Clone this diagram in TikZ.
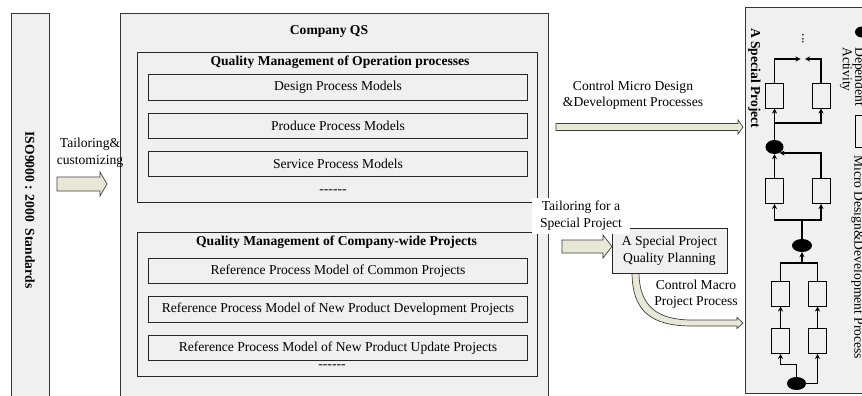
\documentclass[tikz,border=0pt]{standalone}
\usepackage{fontspec}
\setmainfont{Liberation Serif}[Ligatures=TeXOff]
\usetikzlibrary{arrows.meta,shapes.geometric}
\definecolor{panelgray}{RGB}{240,240,240}
\definecolor{arrowfill}{RGB}{232,232,214}
\definecolor{edgegray}{RGB}{55,55,55}
\begin{document}
\begin{tikzpicture}[x=1pt,y=-1pt,
  txt/.style={font=\fontsize{13.6}{16.5}\selectfont, inner sep=0pt, align=center},
  bold/.style={font=\fontsize{13.6}{16.5}\selectfont\bfseries, inner sep=0pt, align=center},
  panel/.style={draw=edgegray, line width=1.2pt, fill=panelgray, inner sep=0pt, anchor=north west},
  subbox/.style={draw=black!85, line width=1pt, fill=panelgray, inner sep=0pt},
  blockarrow/.style={draw=black!75, line width=0.7pt, fill=arrowfill},
  fbox/.style={draw=black, line width=1pt, minimum width=18pt, minimum height=25pt, inner sep=0pt},
  blob/.style={ellipse, fill=black, minimum width=18pt, minimum height=14pt, inner sep=0pt},
  wire/.style={draw=black, line width=1.2pt},
  flow/.style={wire, -{Stealth[length=5pt,width=5pt]}}]
\useasboundingbox (0,0) rectangle (862,396);
\fill[white] (0,0) rectangle (862,396);

% ---------- left panel ----------
\node[panel, minimum width=38pt, minimum height=384pt] (iso) at (11,13) {};
\node[bold, rotate=-90] (isotxt) at (30,210) {ISO9000 : 2000 \ Standards};

% ---------- Company QS ----------
\node[panel, minimum width=428pt, minimum height=384pt] (qs) at (120,13) {};
\node[bold] (qstitle) at (329,31) {Company QS};

\node[panel, draw=black!85, line width=1pt, minimum width=399.5pt, minimum height=150pt] (op) at (137,52) {};
\node[bold] (optitle) at (340,62) {Quality Management of Operation processes};
\node[subbox, minimum width=378.5pt, minimum height=25pt] (design) at (338,87.5) {};
\node[txt] at (design) {Design Process Models};
\node[subbox, minimum width=378.5pt, minimum height=25pt] (produce) at (338,125.5) {};
\node[txt] at (produce) {Produce Process Models};
\node[subbox, minimum width=378.5pt, minimum height=25pt] (service) at (338,164) {};
\node[txt] at (service) {Service Process Models};
\node[txt] (opdots) at (333,192) {------};

\node[panel, draw=black!85, line width=1pt, minimum width=399.5pt, minimum height=144pt] (cw) at (137,232) {};
\node[bold] (cwtitle) at (336.5,242.5) {Quality Management of Company-wide Projects};
\node[subbox, minimum width=379.5pt, minimum height=25.5pt] (ref1) at (338,271) {};
\node[txt] at (ref1) {Reference Process Model of Common Projects};
\node[subbox, minimum width=379.5pt, minimum height=25.5pt] (ref2) at (338,309.5) {};
\node[txt] at (ref2) {Reference Process Model of New Product Development Projects};
\node[subbox, minimum width=379.5pt, minimum height=25.5pt] (ref3) at (338,348) {};
\node[txt] at (ref3) {Reference Process Model of New Product Update Projects};
\node[txt] (cwdots) at (332,367) {------};

% ---------- tailoring & customizing ----------
\node[txt] (tail1) at (90,152.5) {Tailoring\&\\customizing};
\path[blockarrow] (57,177) -- (100,177) -- (100,172) -- (107,184) -- (100,196) -- (100,191) -- (57,191) -- cycle;

% ---------- control micro ----------
\node[txt] (micro) at (633,95) {Control Micro Design\\\&Development Processes};
\path[blockarrow] (556,123.5) -- (738,123.5) -- (738,120) -- (743,127) -- (738,134) -- (738,130.5) -- (556,130.5) -- cycle;

% ---------- special project planning ----------
\path[blockarrow] (632,272) .. controls (632,312) and (652,326) .. (692,326) -- (737,326) -- (737,328.5) -- (743,323) -- (737,317.5) -- (737,320) -- (692,320) .. controls (657,320) and (639,306) .. (639,272) -- cycle;
\node[subbox, minimum width=115pt, minimum height=45pt] (plan) at (669.5,250.5) {};
\node[txt] at (plan) {A Special Project\\Quality Planning};
\node[txt, fill=white, minimum width=98pt, minimum height=36pt] (tail2) at (581,215.5) {Tailoring for a\\Special Project};
\path[blockarrow] (562,240) -- (603,240) -- (603,235) -- (612,246.5) -- (603,258) -- (603,253) -- (562,253) -- cycle;
\node[txt] (macro) at (696,294) {Control Macro\\Project Process};

% ---------- right panel ----------
\node[panel, minimum width=140pt, minimum height=386pt] (sp) at (745,7) {};
\node[bold, rotate=-90, anchor=west] (sptitle) at (754.5,28) {A Special Project};

\node[fbox] (L1) at (774.5,95.5) {};
\node[fbox] (R1) at (821,95.5) {};
\node[blob] (B1) at (774.5,147) {};
\node[fbox] (L2) at (774.5,191) {};
\node[fbox] (R2) at (821,191) {};
\node[blob, minimum width=20pt, minimum height=13pt] (B2) at (802,245.5) {};
\node[fbox] (L4) at (780.5,293.5) {};
\node[fbox] (R4) at (817.5,293.5) {};
\node[fbox] (L5) at (780.5,341) {};
\node[fbox] (R5) at (817.5,341) {};
\node[blob, minimum width=19pt, minimum height=13pt] (B3) at (796.5,383.5) {};

\draw[flow] (B3.north) -- ++(0,-12) -| (L5.south);
\draw[flow] (B3.east) -| (R5.south);
\draw[flow] (L5.north) -- (L4.south);
\draw[flow] (R5.north) -- (R4.south);
\coordinate (J2) at (802,263);
\draw[wire] (L4.north) |- (J2);
\draw[wire] (R4.north) |- (J2);
\draw[flow] (J2) -- (B2.south);
\coordinate (J3) at (802,220);
\draw[wire] (B2.north) -- (J3);
\draw[flow] (J3) -| (L2.south);
\draw[flow] (J3) -| (R2.south);
\draw[flow] (L2.north) -- (B1.south);
\draw[flow] (R2.north) |- (B1.-50);
\coordinate (J1) at (774.5,123);
\draw[wire] (B1.north) -- (J1);
\draw[flow] (J1) -- (L1.south);
\draw[flow] (J1) -| (R1.south);
\coordinate (T1) at (800.5,59);
\coordinate (T2) at (805,59);
\draw[flow] (L1.north) |- (T1);
\draw[flow] (R1.north) |- (T2);
\node[txt, rotate=-90] (more) at (803,39) {...};

% ---------- legend ----------
\node[blob, minimum width=14pt, minimum height=11pt] (legblob) at (862,32) {};
\node[txt, rotate=-90, anchor=north west, align=left, font=\fontsize{13.6}{12.5}\selectfont] (legdep) at (865,47) {Dependent\\Activity};
\node[draw=black, line width=1pt, minimum width=20pt, minimum height=32pt, inner sep=0pt] (legbox) at (865,131) {};
\node[txt, rotate=-90, anchor=west] (legmicro) at (857.5,155) {Micro Design\&Development Process};
\end{tikzpicture}
\end{document}
